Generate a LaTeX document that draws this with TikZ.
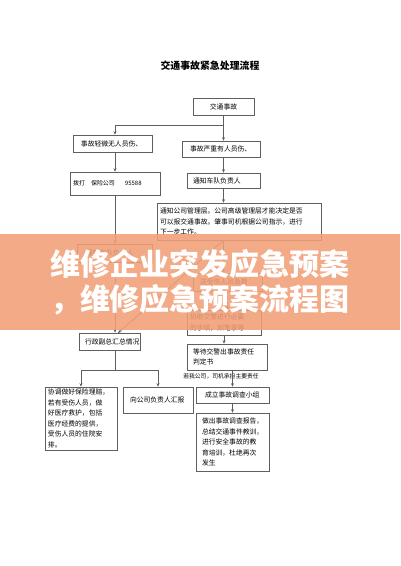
\documentclass[tikz,border=0pt]{standalone}
\usepackage{fontspec}
\setmainfont{Noto Sans CJK SC}
\usetikzlibrary{arrows.meta}
\definecolor{strich}{RGB}{95,95,95}
\definecolor{banner}{RGB}{240,158,118}

\begin{document}
\begin{tikzpicture}[x=1pt, y=-1pt,
	kasten/.style={draw=strich, line width=0.6pt, fill=white, inner xsep=3pt, inner ysep=1pt, align=left, font=\fontsize{6.8}{10.5}\selectfont},
	verbinder/.style={draw=strich, line width=0.6pt},
	pfeil/.style={verbinder, -{Stealth[length=3.5pt, width=3pt]}},
	bannertext/.style={text=white, inner sep=0pt, font=\fontsize{30}{30}\selectfont\bfseries}]
	\useasboundingbox (0,0) rectangle (400,566); % Rand wie Vorlage
	
	\node[font=\fontsize{9.9}{11}\selectfont\bfseries] (titel) at (210,66) {交通事故紧急处理流程};
	
	% linke und rechte Spalte
	\node[kasten, text width=55, minimum height=17, align=center] (unfall) at (223.5,106.5) {交通事故};
	\node[kasten, text width=73, minimum height=17] (leicht) at (112.5,143.5) {\hspace*{5pt}事故轻微无人员伤、};
	\node[kasten, text width=72, minimum height=16] (schwer) at (221,149) {\hspace*{5pt}事故严重有人员伤、};
	\node[kasten, text width=84, minimum height=23] (versich) at (115,183.5) {\fontsize{6}{8}\selectfont 拨打\hspace{6pt}保险公司\hspace{10pt}95588};
	\node[kasten, text width=67, minimum height=15] (fahrer) at (223.5,180.5) {\hspace*{3pt}通知车队负责人};
	\node[kasten, text width=158, minimum height=37] (leitung) at (239,221.5) {通知公司管理层。公司高级管理层才能决定是否\\可以报交通事故。肇事司机根据公司指示，进行\\下一步工作。};
	\node[kasten, text width=69, minimum height=18] (fahrerL) at (114.5,253) {\hspace*{6pt}通知车队负责人};
	\node[kasten, text width=63, minimum height=18] (hilfe) at (227.5,282) {\hspace*{4pt}送受伤人员急救};
	\node[kasten, text width=68, minimum height=25] (polizei) at (224,322.5) {协助交警进行必要\\的手续，如笔录等};
	\node[kasten, text width=55, minimum height=17] (vize) at (109.5,341.5) {\hspace*{3pt}行政副总汇总情况};
	\node[kasten, text width=74, minimum height=26] (urteil) at (227,357) {\hspace*{3pt}等待交警出事故责任\\\hspace*{3pt}判定书};
	\node[kasten, text width=66, minimum height=63] (regul) at (81,418.5) {协调做好保险理赔，\\若有受伤人员，做\\好医疗救护，包括\\医疗经费的提供，\\受伤人员的住院安\\排。};
	\node[kasten, text width=64, minimum height=26] (bericht) at (158,400) {\hspace*{4pt}向公司负责人汇报};
	\node[kasten, text width=67, minimum height=16] (gruppe) at (232.5,395) {\hspace*{6pt}成立事故调查小组};
	\node[kasten, text width=67, minimum height=58] (fazit) at (232.5,442) {\hspace*{3pt}做出事故调查报告，\\\hspace*{3pt}总结交通事件教训，\\\hspace*{3pt}进行安全事故的教\\\hspace*{3pt}育培训，杜绝再次\\\hspace*{3pt}发生};
	
	\node[font=\fontsize{5.8}{7}\selectfont, inner sep=0pt] (hinweis) at (221,376) {若我公司，司机承担主要责任};
	
	% Verbindungen
	\coordinate (gabel) at (223.5,125);
	\coordinate (teil) at (115,370);
	\coordinate (vz) at (118,333);
	\draw[verbinder] (unfall.south) -- (gabel);
	\draw[pfeil] (gabel) -- (gabel -| versich) -- (versich |- leicht.north);
	\draw[pfeil] (gabel) -- (gabel |- schwer.north);
	\draw[pfeil] (versich |- leicht.south) -- (versich.north);
	\draw[pfeil] (fahrer |- schwer.south) -- (fahrer.north);
	\draw[pfeil] (fahrer.south) -- (fahrer.south |- leitung.north);
	\draw[pfeil] (versich.south) -- (versich |- fahrerL.north);
	\draw[pfeil] (versich |- fahrerL.south) -- (versich |- vize.north);
	\draw[pfeil] (fahrer |- leitung.south) -- (fahrer |- hilfe.north);
	\draw[pfeil] (fahrer |- leitung.south) -- (vz);
	\draw[pfeil] (hilfe.south) -- (hilfe.south |- polizei.north);
	\draw[pfeil] (polizei.south) -- (polizei.south |- urteil.north);
	\draw[pfeil] (gruppe |- urteil.south) -- (gruppe.north);
	\draw[pfeil] (gruppe.south) -- (fazit.north);
	\draw[verbinder] (versich |- vize.south) -- (teil);
	\draw[pfeil] (teil) -- (teil -| regul) -- (regul.north);
	\draw[pfeil] (teil) -| (bericht.north);
	
	% Banner ueber der Grafik
	\fill[banner, fill opacity=0.88] (0,234) rectangle (400,330);
	\node[bannertext] (zeile1) at (200,264) {维修企业突发应急预案};
	\node[bannertext] (zeile2) at (200,300) {，维修应急预案流程图};
\end{tikzpicture}
\end{document}
